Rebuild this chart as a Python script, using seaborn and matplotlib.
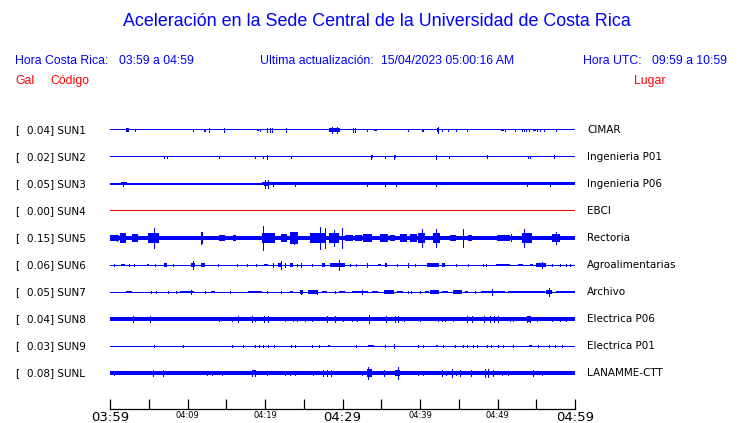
"""
Acelerogramas de la ultima hora - Sede Central UCR
Recreacion del grafico de trazas por estacion (03:59 a 04:59)
"""

import matplotlib
matplotlib.use("Agg")
import matplotlib.pyplot as plt
import matplotlib.transforms as mtransforms
from matplotlib.ticker import MultipleLocator, FixedLocator
import seaborn as sns

# --- Datos ---
codes = ["SUN1", "SUN2", "SUN3", "SUN4", "SUN5", "SUN6", "SUN7", "SUN8", "SUN9", "SUNL"]
gal = [0.04, 0.02, 0.05, 0.00, 0.15, 0.06, 0.05, 0.04, 0.03, 0.08]
places = ["CIMAR", "Ingenieria P01", "Ingenieria P06", "EBCI", "Rectoria",
          "Agroalimentarias", "Archivo", "Electrica P06", "Electrica P01", "LANAMME-CTT"]
tick_labels = ["03:59", "04:09", "04:19", "04:29", "04:39", "04:49", "04:59"]

# semi-amplitud del ruido de fondo (unidades relativas)
base_amp = [0.5, 0.5, 0.7, 0.5, 1.7, 0.5, 0.5, 1.7, 0.5, 1.7]

# rafagas: (minuto inicio, minuto fin, semi-amplitud)
sun1_bursts = [(2.06, 2.5, 2), (19.0, 19.2, 1.3), (28.2, 29.7, 2), (34.0, 34.4, 1.3),
               (42.2, 42.5, 2), (50.4, 50.9, 1.3), (54.6, 55.0, 1.3)]
sun2_bursts = [(33.7, 33.9, 1.5), (36.6, 36.85, 1.5), (42.0, 42.2, 1.5)]
sun3_bursts = [(0, 1.3, 1.3), (1.4, 2.15, 1.5), (2.45, 3.9, 1.3), (4.5, 6.7, 1.3), (6.9, 7.5, 1.3),
               (7.7, 9.0, 1.3), (9.45, 10.1, 1.3), (10.6, 11.2, 1.3), (11.5, 12.7, 1.3),
               (13.0, 13.3, 1.3), (14.0, 14.4, 1.3), (14.7, 15.7, 1.3), (16.0, 16.8, 1.3),
               (17.0, 17.6, 1.3), (17.9, 19.6, 1.3), (19.6, 60, 1.5), (19.9, 20.5, 2.3)]
sun4_bursts = []
sun5_bursts = [(0, 1.1, 2.7), (1.3, 2.0, 4.7), (2.8, 3.6, 4), (4.9, 6.3, 4.7), (6.8, 7.3, 2),
               (8.8, 8.9, 2), (9.7, 9.8, 2), (11.7, 12.0, 5.7), (12.3, 13.1, 2), (14.0, 14.9, 3),
               (15.9, 16.3, 2.7), (17.4, 18.3, 2), (18.7, 19.1, 2), (19.6, 21.3, 5),
               (22.1, 22.9, 4), (23.2, 24.2, 5.7), (25.2, 25.8, 2), (25.8, 27.8, 5),
               (28.2, 29.5, 5), (30.3, 31.4, 3.3), (31.6, 32.5, 2.7), (32.7, 33.8, 4.3),
               (34.8, 35.9, 4), (36.1, 36.8, 2.7), (37.4, 38.3, 4.3), (38.7, 39.6, 4),
               (39.8, 40.6, 4.7), (41.7, 42.6, 5), (43.9, 44.7, 3.3), (46.2, 46.7, 3.3),
               (46.7, 49.2, 1.9), (49.9, 51.6, 2.7), (51.8, 51.9, 4), (53.1, 54.4, 4.7),
               (55.0, 56.5, 2), (57.0, 58.0, 4), (58.5, 60, 2)]
sun6_bursts = [(1.4, 1.95, 1.2), (4.8, 5.0, 1.3), (7.0, 7.3, 1.7), (10.5, 11.0, 2.3),
               (11.7, 12.2, 1.7), (19.9, 20.4, 1.3), (21.7, 22.1, 2), (23.2, 23.65, 1.7),
               (27.4, 27.8, 1.7), (28.4, 30.3, 2), (34.6, 35.0, 1.3), (35.5, 35.8, 2),
               (40.85, 42.4, 1.7), (42.8, 43.2, 1.7), (49.75, 51.6, 1.3), (52.7, 53.3, 1.3),
               (54.2, 54.6, 1.3), (55.0, 56.3, 2)]
sun7_bursts = [(2.0, 2.8, 1.3), (9.07, 10.8, 1.3), (13.0, 13.5, 1.3), (17.8, 19.6, 1.3),
               (23.2, 23.65, 1.3), (24.5, 24.9, 2.3), (25.5, 26.9, 1.7), (27.3, 28.0, 1.3),
               (29.5, 30.3, 1.3), (31.2, 33.3, 1.3), (33.8, 34.6, 1.3), (35.3, 36.6, 1.7),
               (37.0, 37.8, 1), (40.6, 41.1, 1), (41.3, 42.4, 1.7), (42.8, 43.6, 1.3),
               (44.3, 45.4, 1.7), (45.8, 46.2, 1), (47.9, 51.0, 1.3), (51.4, 56.1, 1.3),
               (56.3, 57.0, 2), (57.6, 60, 1.3)]
sun8_bursts = [(19.8, 20.4, 2.3), (25.2, 26.0, 2.2), (46.1, 47.1, 2.4), (48.2, 50.9, 2.4),
               (53.75, 54.2, 2.7)]
sun9_bursts = [(28.1, 28.4, 1.2), (33.3, 34.0, 1.3), (42.1, 42.3, 1.3), (54.0, 54.4, 1.3)]
sunl_bursts = [(18.3, 18.7, 2.5), (27.5, 28.5, 2.3), (33.1, 33.8, 4), (36.8, 37.4, 3.3)]

# picos aislados: (minuto, semi-amplitud)
sun1_spikes = [(3.2, 1), (10.75, 1), (12.1, 1.3), (12.3, 1.3), (12.8, 1.7), (14.7, 1.7),
               (19.35, 1), (20.3, 1.7), (20.6, 1.7), (20.9, 1.7), (22.7, 1.7), (28.6, 3.3),
               (29.3, 3.3), (31.3, 1.7), (31.6, 1.7), (33.2, 1), (38.4, 1.3), (40.2, 1.3),
               (40.4, 1.3), (42.3, 3.3), (42.8, 1.3), (43.6, 1.3), (44.7, 1.3), (46.1, 1.3),
               (51.0, 1), (52.2, 1), (53.1, 1.3), (53.4, 1.3), (53.7, 1.3), (54.0, 1.3),
               (55.1, 1.3), (55.5, 1.3), (56.0, 1.3), (57.5, 1.3)]
sun2_spikes = [(7.0, 1), (7.35, 1), (14.1, 1), (18.7, 1.3), (19.8, 1.3), (20.3, 1.7), (23.4, 1),
               (33.7, 2.3), (35.5, 1), (36.7, 1.7), (42.1, 1.7), (43.8, 1.2), (48.7, 1.5),
               (53.9, 1.2), (54.2, 1), (57.3, 1.5)]
sun3_spikes = [(1.7, 2), (20.0, 4.3), (20.4, 4.3), (21.0, 2.3), (23.9, 2.3), (33.2, 2.3),
               (35.5, 2), (36.9, 2.3), (42.1, 2), (53.8, 1.7), (56.8, 2.3)]
sun4_spikes = []
sun5_spikes = [(0.9, 3), (5.7, 10.3), (11.8, 5.7), (19.8, 11.7), (23.8, 6), (27.1, 11),
               (27.7, 10), (28.9, 8.3), (29.9, 10), (40.3, 9.3), (42.1, 9), (45.6, 9),
               (53.45, 9.3), (57.6, 6)]
sun6_spikes = [(0.56, 1.2), (2.45, 1.2), (3.1, 1.2), (5.8, 0.7), (8.1, 1.3), (10.75, 4),
               (13.9, 1), (16.4, 0.7), (17.7, 1), (18.9, 0.7), (21.0, 2), (22.0, 4), (22.6, 1.7),
               (24.1, 1), (24.7, 2), (26.1, 1), (29.6, 4.7), (31.0, 1), (31.8, 1.3), (33.1, 2),
               (37.0, 0.7), (38.4, 2.3), (39.3, 0.7), (44.7, 1), (46.2, 1.3), (48.1, 1.3),
               (48.5, 1.3), (55.7, 3), (57.0, 1.3), (58.05, 1.3), (58.9, 1), (59.3, 1)]
sun7_spikes = [(5.25, 1), (5.93, 1), (7.5, 0.7), (8.56, 0.7), (10.45, 2.3), (12.26, 1.3),
               (15.5, 1), (20.3, 0.7), (22.0, 1), (24.7, 2.3), (26.7, 2), (29.0, 1), (32.5, 2.3),
               (38.5, 0.7), (38.9, 0.7), (40.0, 0.7), (47.1, 1.3), (49.3, 2.7), (56.6, 4)]
sun8_spikes = [(3.0, 2.7), (5.16, 2.7), (14.1, 2.3), (15.7, 2.3), (16.5, 2.7), (18.3, 2.7),
               (18.7, 2.3), (19.9, 2.7), (20.4, 2.7), (22.6, 2.3), (23.65, 2.3), (24.1, 2.3),
               (25.2, 2.3), (26.0, 2.3), (28.0, 2.7), (29.0, 2.7), (30.1, 2.3), (31.2, 2.3),
               (31.9, 2.3), (33.4, 4), (35.6, 2.7), (36.8, 2.7), (37.1, 2.7), (37.9, 2.3),
               (40.0, 2.3), (42.3, 2.3), (42.8, 2.3), (43.2, 2.3), (44.3, 2), (46.1, 2.7),
               (46.7, 2.7), (48.2, 2.7), (49.0, 2.7), (49.6, 2.7), (50.1, 3.3), (51.6, 2),
               (52.0, 2), (53.75, 3.3), (54.2, 3.3), (55.1, 2.3), (57.0, 2.3), (58.05, 2.3),
               (58.9, 2)]
sun9_spikes = [(5.72, 1.3), (9.46, 1), (15.7, 0.7), (17.1, 1), (18.7, 1.3), (19.2, 1),
               (19.8, 1.3), (20.4, 1.3), (21.1, 0.7), (23.3, 1), (23.9, 1), (26.0, 1), (27.0, 1),
               (31.8, 1.3), (35.5, 1), (36.7, 1.7), (39.8, 1), (40.4, 1), (43.0, 0.7),
               (44.5, 1), (45.6, 1), (46.1, 1.3), (46.9, 1), (47.4, 1), (48.6, 1.3),
               (49.2, 1.3), (50.0, 1), (50.7, 1), (52.0, 1), (55.2, 1), (56.7, 1), (57.4, 1),
               (58.3, 1)]
sunl_spikes = [(0.56, 2.3), (5.59, 2.7), (6.88, 3), (12.47, 2.3), (13.1, 2.3), (14.5, 2.3),
               (18.3, 2.7), (18.7, 2.7), (20.3, 2.3), (22.6, 2.3), (23.2, 2.3), (23.9, 2.3),
               (26.2, 2.3), (27.5, 3), (28.0, 3), (28.5, 3), (32.5, 2.3), (33.3, 6.3),
               (35.3, 2.7), (37.1, 6.3), (39.8, 2.3), (40.4, 2.3), (42.8, 2.7), (43.4, 2.3),
               (44.1, 3.7), (44.6, 2.3), (45.15, 3), (46.6, 2.7), (48.4, 3.7), (48.8, 3.7),
               (49.45, 2.7), (50.6, 2), (51.4, 2), (54.6, 2.7), (55.7, 2)]

all_bursts = [sun1_bursts, sun2_bursts, sun3_bursts, sun4_bursts, sun5_bursts,
              sun6_bursts, sun7_bursts, sun8_bursts, sun9_bursts, sunl_bursts]
all_spikes = [sun1_spikes, sun2_spikes, sun3_spikes, sun4_spikes, sun5_spikes,
              sun6_spikes, sun7_spikes, sun8_spikes, sun9_spikes, sunl_spikes]

BLUE = "#0000ff"
RED = "#ff0000"
W, H = 740, 423
ROW_PX = 27.0          # separacion entre trazas en pixeles
AMP = 1.0 / ROW_PX     # unidades de amplitud -> filas


def main():
    sns.set_style("white")
    plt.rcParams["font.family"] = ["DejaVu Sans"]
    plt.rcParams["text.color"] = "black"
    plt.rcParams["xtick.color"] = "black"
    plt.rcParams["xtick.labelcolor"] = "black"

    fig = plt.figure(figsize=(W / 100, H / 100), dpi=100)
    fig.patch.set_facecolor("white")

    # area de trazas: x 110..575 px, y 115..409 px
    top_px, bot_px, first_row_px = 115, 409, 130
    ax = fig.add_axes([110 / W, (H - bot_px) / H, 465 / W, (bot_px - top_px) / H])
    ax.set_xlim(0, 60)
    ax.set_ylim((bot_px - first_row_px) / ROW_PX, (top_px - first_row_px) / ROW_PX)

    for i, code in enumerate(codes):
        color = RED if gal[i] == 0 else BLUE
        b = max(base_amp[i], 0.5)
        ax.bar(0, 2 * b * AMP, width=60, bottom=i - b * AMP, align="edge",
               color=color, linewidth=0, antialiased=False)
        for t0, t1, a in all_bursts[i]:
            ax.bar(t0, 2 * a * AMP, width=max(t1 - t0, 0.13), bottom=i - a * AMP,
                   align="edge", color=color, linewidth=0, antialiased=False)
        if all_spikes[i]:
            ts = [s[0] for s in all_spikes[i]]
            amps = [s[1] for s in all_spikes[i]]
            ax.vlines(ts, [i - a * AMP for a in amps], [i + a * AMP for a in amps],
                      color=color, linewidth=0.72, antialiased=False)

    # eje de tiempo
    sns.despine(ax=ax, left=True, top=True, right=True)
    ax.spines["bottom"].set_color("black")
    ax.spines["bottom"].set_linewidth(0.9)
    ax.set_yticks([])
    ax.xaxis.set_major_locator(FixedLocator(range(0, 61, 10)))
    ax.xaxis.set_minor_locator(MultipleLocator(5))
    ax.set_xticklabels(tick_labels)
    ax.tick_params(axis="x", which="both", bottom=True, direction="in", length=7.5,
                   width=0.9, color="black", labelcolor="black", pad=1.5)
    for k, lab in enumerate(ax.get_xticklabels()):
        lab.set_fontsize(9.5 if k % 3 == 0 else 6)
        lab.set_verticalalignment("top")

    # etiquetas de cada traza
    tr = mtransforms.blended_transform_factory(fig.transFigure, ax.transData)
    for i, code in enumerate(codes):
        ax.text(15 / W, i, "[", transform=tr, fontsize=7.5, va="center", ha="left",
                color="black")
        ax.text(27 / W, i, f"{gal[i]:.2f}] {code}", transform=tr, fontsize=7.5,
                va="center", ha="left", color="black")
        ax.text(587 / W, i, places[i], transform=tr, fontsize=7.5, va="center", ha="left",
                color="black")

    # encabezado
    hf = ["Liberation Sans", "DejaVu Sans"]
    fig.text(377 / W, 1 - 22 / H, "Aceleración en la Sede Central de la Universidad de Costa Rica",
             ha="center", va="center", fontsize=12.9, color=BLUE, family=hf)
    info = [(15, "Hora Costa Rica:"), (119, "03:59 a 04:59"),
            (260, "Ultima actualización:"), (381, "15/04/2023 05:00:16 AM"),
            (583, "Hora UTC:"), (652, "09:59 a 10:59")]
    for x, s in info:
        fig.text(x / W, 1 - 61 / H, s, ha="left", va="center", fontsize=8.8, color=BLUE, family=hf)
    for x, s in [(15, "Gal"), (50, "Código"), (634, "Lugar")]:
        fig.text(x / W, 1 - 81 / H, s, ha="left", va="center", fontsize=8.8, color=RED, family=hf)

    fig.savefig("out.png", dpi=100, facecolor="white")
    plt.close(fig)


if __name__ == "__main__":
    main()
